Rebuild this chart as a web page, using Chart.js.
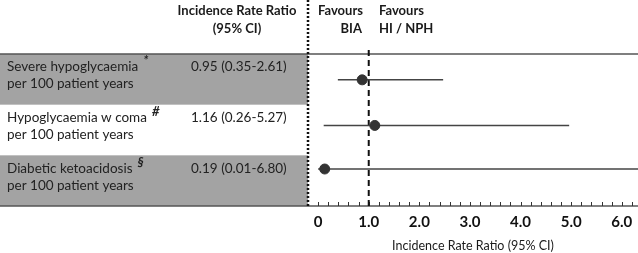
<!DOCTYPE html>
<html>
<head>
<meta charset="utf-8">
<script src="https://cdn.jsdelivr.net/npm/chart.js@4"></script>
<style>
  html, body { margin: 0; padding: 0; background: #fff; }
  #wrap { width: 638px; height: 253px; }
</style>
</head>
<body>
<div id="wrap"><canvas id="forest"></canvas></div>
<script>
// datos
const outcomes = ['Severe hypoglycaemia', 'Hypoglycaemia w coma', 'Diabetic ketoacidosis'];
const marks = ['*', '#', '§'];
const subLabel = 'per 100 patient years';
const ciText = ['0.95 (0.35-2.61)', '1.16 (0.26-5.27)', '0.19 (0.01-6.80)'];
const estimate = [0.87, 1.12, 0.13];
const lower = [0.39, 0.11, 0.0];
const upper = [2.47, 4.96, 6.8];
const rowPos = [0.51, 1.41, 2.27];   // posicion vertical del punto dentro de cada fila
const xTicks = [0, 1, 2, 3, 4, 5, 6];

const FONT = 'Lato, "Open Sans", sans-serif';
const X_MAX = 6.32;

// Dibuja la tabla de la izquierda, bandas grises, lineas y textos
const tablePlugin = {
  id: 'tablePlugin',
  beforeDatasetsDraw(chart) {
    const { ctx, scales: { x, y }, chartArea } = chart;
    ctx.save();
    // bandas grises
    ctx.fillStyle = '#a3a3a3';
    [0, 2].forEach(i => {
      const t = y.getPixelForValue(i), b = y.getPixelForValue(i + 1);
      ctx.fillRect(0, t, chartArea.left, b - t);
    });
    // linea superior e inferior
    ctx.strokeStyle = '#555';
    ctx.lineWidth = 1.3;
    ctx.beginPath();
    ctx.moveTo(0, y.getPixelForValue(0)); ctx.lineTo(chart.width, y.getPixelForValue(0));
    ctx.moveTo(0, y.getPixelForValue(3)); ctx.lineTo(chart.width, y.getPixelForValue(3));
    ctx.stroke();

    // marcas del eje (hacia arriba), cada 0.2
    ctx.strokeStyle = '#333';
    ctx.lineWidth = 1;
    ctx.beginPath();
    for (let k = 0; k <= 32; k++) {
      const px = Math.round(x.getPixelForValue(k * 0.2)) + 0.5;
      if (px > chartArea.right) break;
      ctx.moveTo(px, chartArea.bottom); ctx.lineTo(px, chartArea.bottom - 4);
    }
    ctx.stroke();

    // linea punteada vertical
    ctx.strokeStyle = '#111';
    ctx.lineWidth = 2.5;
    ctx.setLineDash([2, 2]);
    ctx.beginPath();
    ctx.moveTo(chartArea.left, 0); ctx.lineTo(chartArea.left, chartArea.bottom);
    ctx.stroke();
    // linea discontinua en 1.0
    ctx.lineWidth = 2;
    ctx.setLineDash([6, 4]);
    const x1 = x.getPixelForValue(1);
    ctx.beginPath();
    ctx.moveTo(x1, chartArea.top - 4); ctx.lineTo(x1, chartArea.bottom);
    ctx.stroke();
    ctx.setLineDash([]);

    // textos de la tabla
    ctx.fillStyle = '#222';
    ctx.textBaseline = 'middle';
    outcomes.forEach((name, i) => {
      const t = y.getPixelForValue(i);
      ctx.font = '13.5px ' + FONT;
      ctx.textAlign = 'left';
      ctx.fillText(name, 7, t + 13);
      const w = ctx.measureText(name).width;
      ctx.fillText(subLabel, 7, t + 30);
      ctx.fillText(ciText[i], 191, t + 13);
      ctx.font = 'bold italic 13px ' + FONT;
      ctx.fillText(marks[i], 7 + w + 5, t + 7);
    });

    // encabezados
    ctx.fillStyle = '#1a1a1a';
    ctx.font = 'bold 13px ' + FONT;
    ctx.textAlign = 'center';
    ctx.fillText('Incidence Rate Ratio', 237, 11);
    ctx.fillText('(95% CI)', 237, 29);
    ctx.textAlign = 'left';
    ctx.fillText('Favours', 318, 11);
    ctx.fillText('Favours', 379, 11);
    ctx.fillText('HI / NPH', 379, 29);
    ctx.textAlign = 'right';
    ctx.fillText('BIA', 362, 29);
    ctx.restore();
  }
};

const ctx = document.getElementById('forest').getContext('2d');
const forestChart = new Chart(ctx, {
  type: 'scatter',
  data: {
    datasets: [
      {
        label: 'IRR',
        data: outcomes.map((_, i) => ({ x: estimate[i], y: rowPos[i] })),
        backgroundColor: '#333',
        borderColor: '#333',
        pointRadius: 5,
        order: 0
      },
      ...outcomes.map((_, i) => ({
        label: 'CI ' + i,
        type: 'line',
        data: [{ x: lower[i], y: rowPos[i] }, { x: Math.min(upper[i], X_MAX), y: rowPos[i] }],
        borderColor: '#444',
        borderWidth: 1.5,
        pointRadius: 0,
        order: 1
      }))
    ]
  },
  plugins: [tablePlugin],
  options: {
    responsive: true,
    maintainAspectRatio: false,
    animation: false,
    layout: { autoPadding: false, padding: { left: 308, top: 54, right: 0, bottom: 0 } },
    plugins: { legend: { display: false }, tooltip: { enabled: false } },
    scales: {
      x: {
        type: 'linear',
        min: -0.2,
        max: X_MAX,
        afterBuildTicks: axis => { axis.ticks = xTicks.map(v => ({ value: v })); },
        afterFit: axis => { axis.paddingLeft = 0; axis.paddingRight = 0; axis.height = 47; },
        grid: { display: false, drawTicks: false },
        border: { display: false },
        ticks: {
          color: '#111',
          font: { family: FONT, size: 15, weight: 'bold' },
          padding: 7,
          callback: v => v === 0 ? '0' : v.toFixed(1)
        },
        title: {
          display: true,
          text: 'Incidence Rate Ratio (95% CI)',
          color: '#1a1a1a',
          font: { family: FONT, size: 12.5 },
          padding: { top: 8, bottom: 0 }
        }
      },
      y: {
        type: 'linear',
        min: 0,
        max: 3,
        reverse: true,
        display: false
      }
    }
  }
});
</script>
</body>
</html>
